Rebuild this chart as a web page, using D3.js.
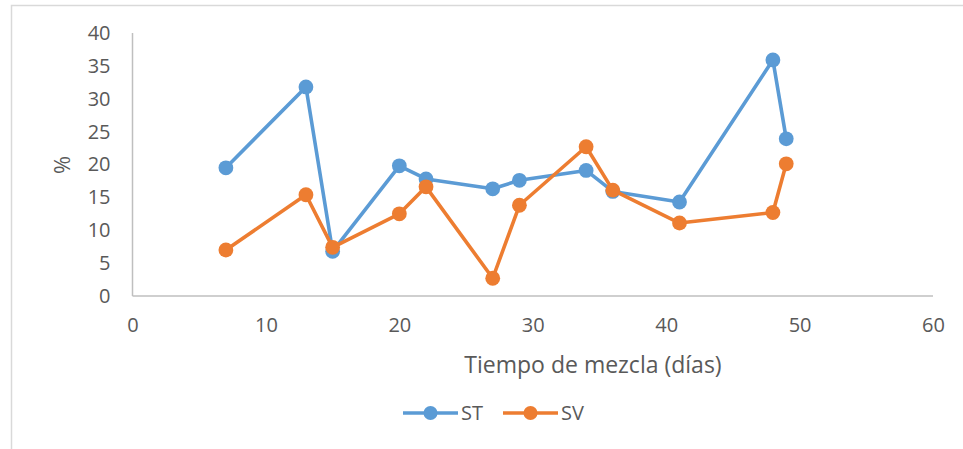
<!DOCTYPE html>
<html>
<head>
<meta charset="utf-8">
<script src="https://cdn.jsdelivr.net/npm/d3@7"></script>
<style>
  html, body { margin: 0; padding: 0; background: #fff; }
  svg { display: block; font-family: "Open Sans", "Liberation Sans", sans-serif; }
</style>
</head>
<body>
<svg id="chart" width="963" height="449"></svg>
<script>
// Mixing time (days) and measured percentages
const dias = [7, 13, 15, 20, 22, 27, 29, 34, 36, 41, 48, 49];
const stValues = [19.5, 31.8, 6.8, 19.8, 17.8, 16.3, 17.6, 19.1, 15.9, 14.3, 35.9, 23.9];
const svValues = [7.0, 15.4, 7.4, 12.5, 16.6, 2.7, 13.8, 22.7, 16.1, 11.1, 12.7, 20.1];
const xTicks = [0, 10, 20, 30, 40, 50, 60];
const yTicks = [0, 5, 10, 15, 20, 25, 30, 35, 40];
const seriesNames = ["ST", "SV"];
const seriesColors = ["#5B9BD5", "#ED7D31"];

const series = [
  { name: seriesNames[0], color: seriesColors[0], values: stValues },
  { name: seriesNames[1], color: seriesColors[1], values: svValues }
];

const svg = d3.select("#chart");
const textColor = "#595959";
const axisColor = "#BFBFBF";

// Chart frame (top and left edges visible)
svg.append("path")
  .attr("d", "M11.5,449 L11.5,5.5 L963,5.5")
  .attr("fill", "none")
  .attr("stroke", "#D9D9D9")
  .attr("stroke-width", 1.5);

const x = d3.scaleLinear().domain([0, 60]).range([132.5, 933]);
const y = d3.scaleLinear().domain([0, 40]).range([296, 33]);

// Axis lines
svg.append("line")
  .attr("x1", x(0)).attr("x2", x(0))
  .attr("y1", y(40)).attr("y2", y(0))
  .attr("stroke", axisColor).attr("stroke-width", 1.5);
svg.append("line")
  .attr("x1", x(0)).attr("x2", x(60))
  .attr("y1", y(0)).attr("y2", y(0))
  .attr("stroke", axisColor).attr("stroke-width", 1.5);

// Y tick labels
const yAxis = d3.axisLeft(y).tickValues(yTicks).tickSize(0).tickPadding(22);
const gy = svg.append("g").attr("transform", `translate(${x(0)},0)`).call(yAxis);
gy.select(".domain").remove();
gy.selectAll("text")
  .attr("fill", textColor)
  .style("font-size", "20px")
  .style("font-family", "'Open Sans', sans-serif");

// X tick labels
const xAxis = d3.axisBottom(x).tickValues(xTicks).tickSize(0).tickPadding(22);
const gx = svg.append("g").attr("transform", `translate(0,${y(0)})`).call(xAxis);
gx.select(".domain").remove();
gx.selectAll("text")
  .attr("fill", textColor)
  .style("font-size", "20px")
  .style("font-family", "'Open Sans', sans-serif");

// Axis titles
svg.append("text")
  .attr("x", 593).attr("y", 373)
  .attr("text-anchor", "middle")
  .attr("fill", textColor)
  .style("font-size", "23px")
  .text("Tiempo de mezcla (días)");

svg.append("text")
  .attr("transform", "translate(70,165) rotate(-90)")
  .attr("text-anchor", "middle")
  .attr("fill", textColor)
  .style("font-size", "22px")
  .text("%");

// Series lines and markers
const line = d3.line()
  .x((d, i) => x(dias[i]))
  .y(d => y(d));

series.forEach(s => {
  const g = svg.append("g");
  g.append("path")
    .datum(s.values)
    .attr("d", line)
    .attr("fill", "none")
    .attr("stroke", s.color)
    .attr("stroke-width", 3.6)
    .attr("stroke-linejoin", "round");
  g.selectAll("circle")
    .data(s.values)
    .join("circle")
    .attr("cx", (d, i) => x(dias[i]))
    .attr("cy", d => y(d))
    .attr("r", 7.4)
    .attr("fill", s.color);
});

// Legend
const legendX = [403, 503];
series.forEach((s, i) => {
  const g = svg.append("g").attr("transform", `translate(${legendX[i]},413)`);
  g.append("line")
    .attr("x1", 0).attr("x2", 55)
    .attr("stroke", s.color).attr("stroke-width", 3.6);
  g.append("circle")
    .attr("cx", 27.5).attr("cy", 0).attr("r", 7)
    .attr("fill", s.color);
  g.append("text")
    .attr("x", 58).attr("y", 7)
    .attr("fill", textColor)
    .style("font-size", "20px")
    .text(s.name);
});
</script>
</body>
</html>
